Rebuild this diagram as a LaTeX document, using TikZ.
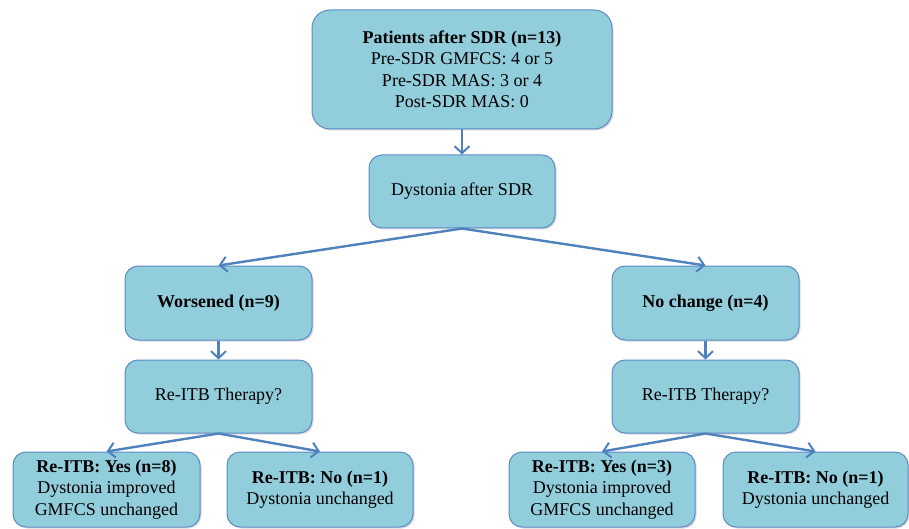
\documentclass[tikz,border=0pt]{standalone}
\usepackage{fontspec}
\setmainfont{Liberation Serif}[Ligatures=TeX]
\newfontfamily\tnr{Liberation Serif}
\usetikzlibrary{arrows.meta,shadows}
\definecolor{boxfill}{RGB}{146,205,220}
\definecolor{boxline}{RGB}{90,140,200}
\definecolor{arrowc}{RGB}{79,129,189}
\begin{document}
\begin{tikzpicture}[x=1pt,y=-1pt,
  box/.style={draw=boxline, line width=1pt, fill=boxfill, rounded corners=13pt,
    align=center, inner sep=2pt, font=\tnr\fontsize{18}{21.5}\selectfont,
    drop shadow={shadow xshift=1.5pt, shadow yshift=-1.5pt, opacity=0.25, fill=black!60}},
  conn/.style={draw=arrowc, line width=2.4pt, -{Straight Barb[length=7pt,width=15pt,line width=2pt]}}
]
\useasboundingbox (0,0) rectangle (909,529);
\node[box, minimum width=300pt, minimum height=119pt, rounded corners=18pt] (top) at (462,69.5)
  {\textbf{Patients after SDR (n=13)}\\Pre-SDR GMFCS: 4 or 5\\Pre-SDR MAS: 3 or 4\\Post-SDR MAS: 0};
\node[box, minimum width=186pt, minimum height=73pt] (dys) at (462,191.5) {Dystonia after SDR};
\node[box, minimum width=187pt, minimum height=74pt] (wor) at (218.5,303) {\textbf{Worsened (n=9)}};
\node[box, minimum width=187pt, minimum height=74pt] (noc) at (705.5,303) {\textbf{No change (n=4)}};
\node[box, minimum width=187pt, minimum height=73pt] (reL) at (218.5,396.5) {Re-ITB Therapy?};
\node[box, minimum width=187pt, minimum height=73pt] (reR) at (705.5,396.5) {Re-ITB Therapy?};
\node[box, minimum width=187pt, minimum height=75pt] (yL) at (106.5,489.5)
  {\textbf{Re-ITB: Yes (n=8)}\\Dystonia improved\\GMFCS unchanged};
\node[box, minimum width=186pt, minimum height=75pt] (nL) at (320,489.5)
  {\textbf{Re-ITB: No (n=1)}\\Dystonia unchanged};
\node[box, minimum width=186pt, minimum height=75pt] (yR) at (602,489.5)
  {\textbf{Re-ITB: Yes (n=3)}\\Dystonia improved\\GMFCS unchanged};
\node[box, minimum width=185pt, minimum height=75pt] (nR) at (815.5,489.5)
  {\textbf{Re-ITB: No (n=1)}\\Dystonia unchanged};
\draw[conn] (top.south) -- (dys.north);
\draw[conn] (dys.south) -- (wor.north);
\draw[conn] (dys.south) -- (noc.north);
\draw[conn] (wor.south) -- (reL.north);
\draw[conn] (noc.south) -- (reR.north);
\draw[conn] (reL.south) -- (yL.north);
\draw[conn] (reL.south) -- (nL.north);
\draw[conn] (reR.south) -- (yR.north);
\draw[conn] (reR.south) -- (nR.north);
\end{tikzpicture}
\end{document}
